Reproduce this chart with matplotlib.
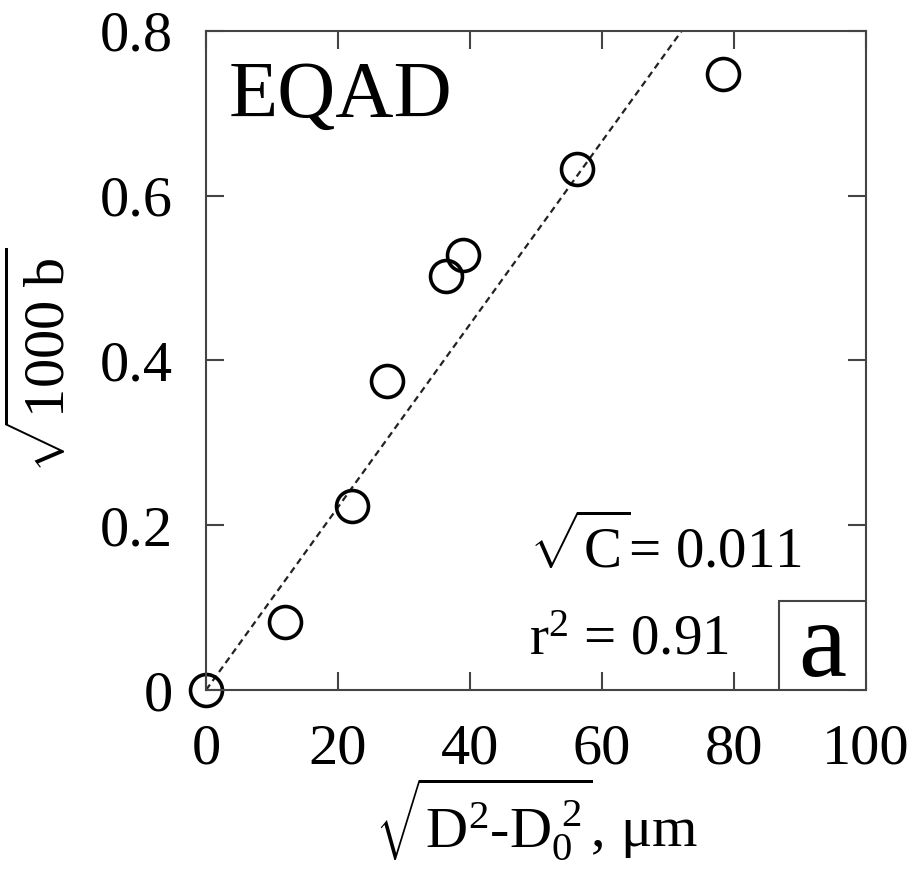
import numpy as np
import matplotlib
matplotlib.use('Agg')
import matplotlib.pyplot as plt
from matplotlib.patches import Rectangle

plt.rcParams['font.family'] = 'Liberation Serif'
plt.rcParams['mathtext.fontset'] = 'custom'
plt.rcParams['mathtext.rm'] = 'Liberation Serif'
plt.rcParams['mathtext.it'] = 'Liberation Serif:italic'

# data
x_vals = [0, 12.0, 22.1, 27.4, 36.4, 38.9, 56.2, 78.3]
y_vals = [0, 0.082, 0.223, 0.375, 0.502, 0.528, 0.632, 0.748]
slope = 0.0111
x_ticks = [0, 20, 40, 60, 80, 100]
y_ticks = [0, 0.2, 0.4, 0.6, 0.8]
y_ticklabels = ['0', '0.2', '0.4', '0.6', '0.8']

fig = plt.figure(figsize=(9.14, 8.73), dpi=100)
ax = fig.add_axes([0.2254, 0.2096, 0.7221, 0.755])

xl = np.array([0, 100])
ax.plot(xl, slope * xl, ls=(0, (3, 2)), color='#222222', lw=1.6)
ax.plot(x_vals, y_vals, 'o', mfc='none', mec='black', ms=23, mew=2.6, clip_on=False)

ax.set_xlim(0, 100)
ax.set_ylim(0, 0.8)
ax.set_xticks(x_ticks)
ax.set_yticks(y_ticks)
ax.set_yticklabels(y_ticklabels)
ax.tick_params(direction='in', top=True, right=True, length=13, width=1.5,
               labelsize=42, pad=24, color='#444444')
for s in ax.spines.values():
    s.set_linewidth(1.5)
    s.set_color('#444444')

ax.set_xlabel(r'$\sqrt{\mathrm{D}^2\text{-}\mathrm{D}_0^{\ 2}}$, μm', fontsize=42, labelpad=0)
ax.set_ylabel(r'$\sqrt{\mathrm{1000\ b}}$', fontsize=42, labelpad=16)

ax.text(0.035, 0.955, 'EQAD', transform=ax.transAxes, fontsize=58, va='top', ha='left')
ax.text(0.49, 0.215, r'$\sqrt{\mathrm{C}}$= 0.011', transform=ax.transAxes, fontsize=41, va='center')
ax.text(0.49, 0.075, r'r$^2$ = 0.91', transform=ax.transAxes, fontsize=41, va='center')

ax.add_patch(Rectangle((0.868, 0), 0.132, 0.135, transform=ax.transAxes,
                       fc='white', ec='#444444', lw=1.5, zorder=3))
ax.text(0.934, 0.06, 'a', transform=ax.transAxes, fontsize=78, va='center', ha='center', zorder=4)

fig.savefig('out.png', dpi=100)
